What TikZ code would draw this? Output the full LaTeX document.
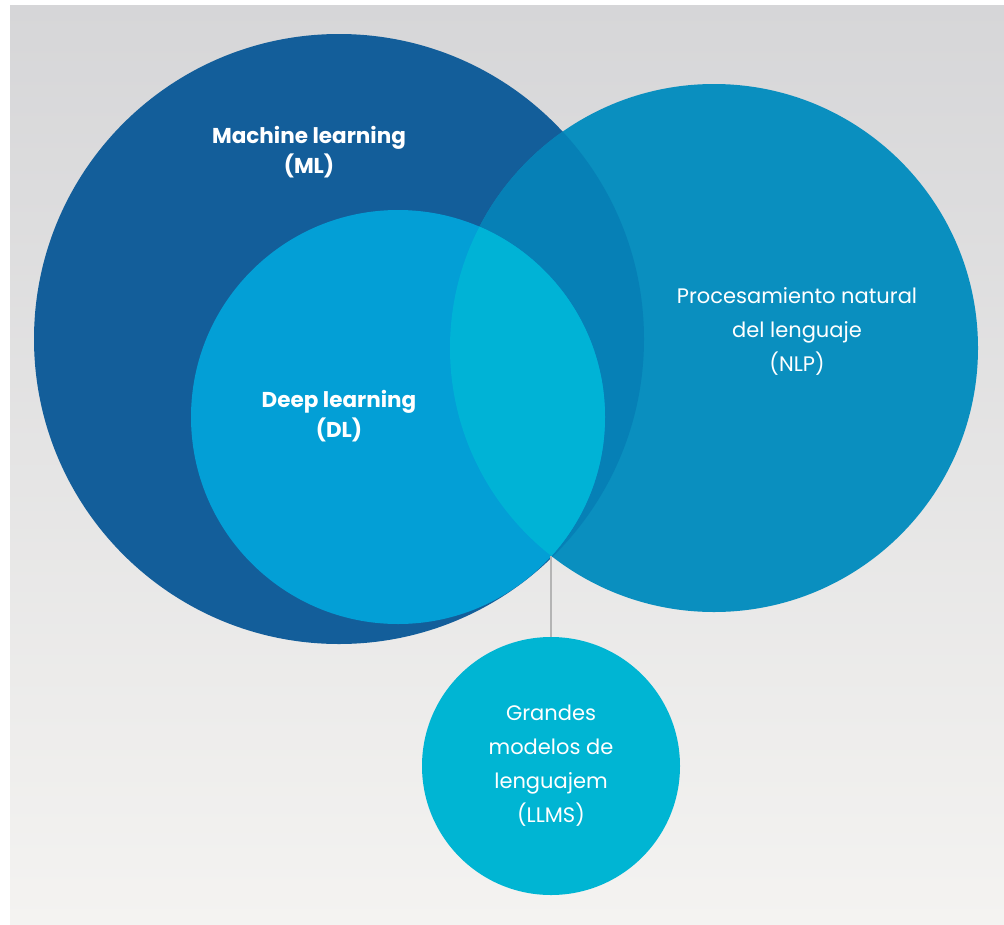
\documentclass[tikz,border=0pt]{standalone}
\usepackage{fontspec}
\setmainfont{Poppins}
\usetikzlibrary{positioning}

\definecolor{bgtop}{HTML}{D6D6D8}
\definecolor{bgbot}{HTML}{F4F3F1}
\definecolor{mlblue}{HTML}{135E9A}
\definecolor{dlblue}{HTML}{039FD6}
\definecolor{nlpblue}{HTML}{0A8FBF}
\definecolor{mlnlp}{HTML}{0680B6}
\definecolor{dlnlp}{HTML}{00B3D6}
\definecolor{llmblue}{HTML}{00B5D3}
\definecolor{leader}{HTML}{B4B4B4}

\tikzset{
  label text/.style={text=white, align=center, inner sep=0pt},
  bold label/.style={label text, font=\bfseries\fontsize{21.5}{30.5}\selectfont},
  plain label/.style={label text, font=\fontsize{21}{34}\selectfont},
}

\begin{document}
\begin{tikzpicture}[x=1pt, y=-1pt]
  % canvas and soft grey backdrop
  \fill[white] (0,0) rectangle (1004,924);
  \useasboundingbox (0,0) rectangle (1004,924);
  \fill[top color=bgtop, bottom color=bgbot] (10,5) rectangle (1004,924);

  % the three overlapping sets
  \fill[mlblue]  (339,339) circle (305pt);
  \fill[nlpblue] (714,348) circle (264pt);
  \begin{scope}
    \clip (339,339) circle (305pt);
    \fill[mlnlp] (714,348) circle (264pt);
  \end{scope}
  \fill[dlblue] (398,417) circle (207pt);
  \begin{scope}
    \clip (398,417) circle (207pt);
    \fill[dlnlp] (714,348) circle (264pt);
  \end{scope}

  % lower meeting point of deep learning and NLP
  \coordinate (meet) at (551,556);

  % large language models
  \node[circle, fill=llmblue, minimum size=258pt, inner sep=0pt] (llm) at (551,766) {};
  \draw[leader, line width=1.2pt] (meet) -- (llm.north);

  % labels
  \node[bold label] (mltext) at (309,152) {Machine learning\\(ML)};
  \node[bold label] (dltext) at (339,416) {Deep learning\\(DL)};
  \node[plain label] (nlptext) at (797,331) {Procesamiento natural\\del lenguaje\\(NLP)};
  \node[plain label] (llmtext) at (llm) {Grandes\\modelos de\\lenguajem\\(LLMS)};
\end{tikzpicture}
\end{document}
